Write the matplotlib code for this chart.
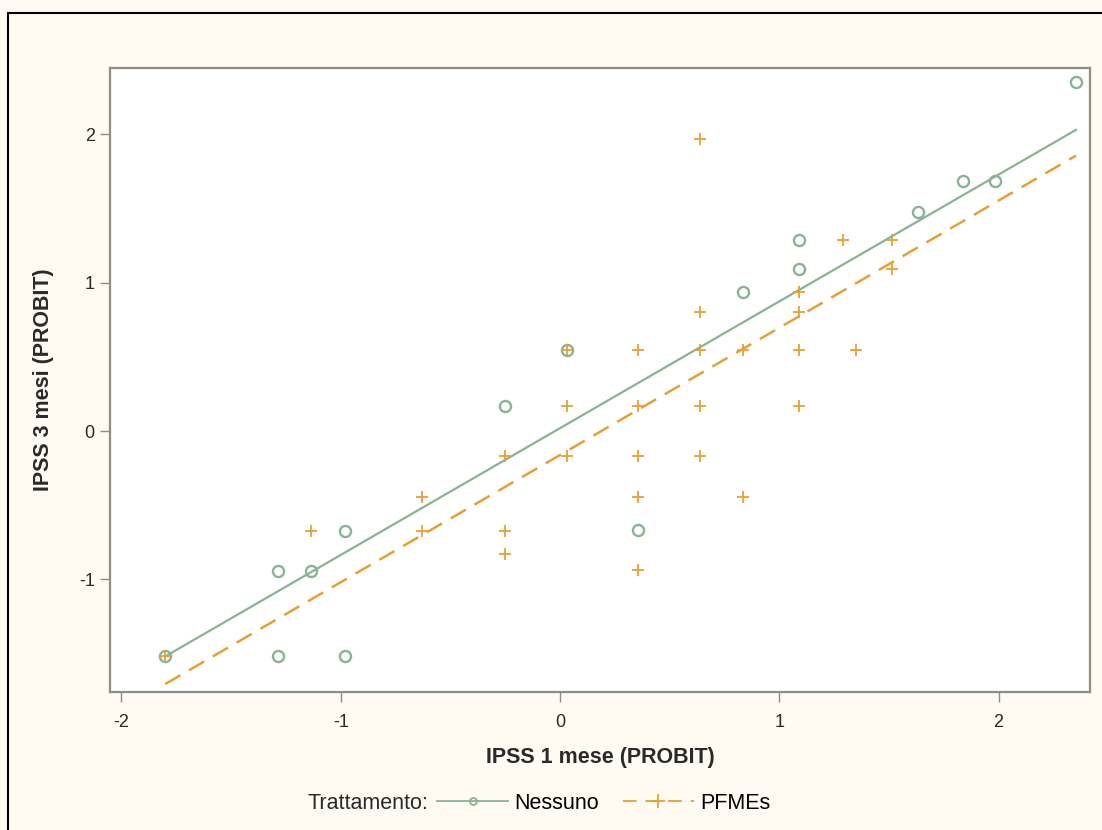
import numpy as np
import matplotlib
matplotlib.use("Agg")
import matplotlib.pyplot as plt
from matplotlib.lines import Line2D
from matplotlib.patches import Rectangle

plt.rcParams['font.family'] = ['Liberation Sans', 'DejaVu Sans']
plt.rcParams['axes.unicode_minus'] = False

# Nessuno (circles)
nes_x = [-1.80, -1.286, -1.136, -0.98, -1.286, -0.98, -0.25, 0.032, 0.356,
         0.835, 1.09, 1.09, 1.633, 1.838, 1.984, 2.353]
nes_y = [-1.52, -0.944, -0.944, -0.674, -1.52, -1.52, 0.169, 0.546, -0.668,
         0.937, 1.288, 1.092, 1.477, 1.686, 1.686, 2.353]

# PFMEs (plus)
pf_x = [-1.80, -1.136, -0.63, -0.63, -0.25, -0.25, -0.25, 0.032, 0.032, 0.032,
        0.356, 0.356, 0.356, 0.356, 0.356, 0.639, 0.639, 0.639, 0.639, 0.639,
        0.835, 0.835, 1.09, 1.09, 1.09, 1.09, 1.29, 1.35, 1.514, 1.514]
pf_y = [-1.52, -0.674, -0.445, -0.674, -0.169, -0.674, -0.83, 0.546, 0.169, -0.169,
        0.546, 0.169, -0.169, -0.445, -0.937, 1.969, 0.80, 0.546, 0.169, -0.169,
        0.546, -0.445, 0.937, 0.80, 0.546, 0.169, 1.288, 0.546, 1.288, 1.092]

# regression lines (intercept, slope)
nes_fit = (0.019, 0.855)
pf_fit = (-0.162, 0.858)
fit_range = [-1.80, 2.353]

green = '#8ab393'
orange = '#e6a033'
bg = '#fffaf2'
frame = '#8e8e84'
txt = '#2a2a2a'

fig = plt.figure(figsize=(11.02, 8.30), dpi=100, facecolor=bg)
fig.patches.append(Rectangle((8 / 1102, -0.05), 1.2, 1 - 13 / 830 + 0.05,
                             transform=fig.transFigure, fill=False,
                             edgecolor='black', linewidth=1.5))
ax = fig.add_axes([110 / 1102, 1 - 692 / 830, 980 / 1102, 624 / 830])
ax.set_facecolor('white')

xs = np.array(fit_range)
ax.plot(xs, nes_fit[0] + nes_fit[1] * xs, color=green, lw=1.6)
ax.plot(xs, pf_fit[0] + pf_fit[1] * xs, color=orange, lw=1.8, dashes=(7, 4))

ax.plot(nes_x, nes_y, 'o', ms=8, mfc='none', mec=green, mew=1.7)
ax.plot(pf_x, pf_y, '+', ms=9, color=orange, mew=1.3)

ax.set_xlim(-2.052, 2.417)
ax.set_ylim(-1.760, 2.448)
ax.set_xticks([-2, -1, 0, 1, 2])
ax.set_yticks([-1, 0, 1, 2])
for s in ax.spines.values():
    s.set_color(frame)
    s.set_linewidth(1.6)
ax.tick_params(direction='out', length=7, width=1, color=frame,
               labelsize=13, labelcolor=txt)
ax.tick_params(axis='x', pad=9)
ax.tick_params(axis='y', pad=4)

ax.set_xlabel('IPSS 1 mese (PROBIT)', fontsize=15.5, fontweight='bold',
              color=txt, labelpad=11)
ax.set_ylabel('IPSS 3 mesi (PROBIT)', fontsize=15.5, fontweight='bold',
              color=txt, labelpad=18)

fig.text(308 / 1102, 1 - 803 / 830, 'Trattamento:', fontsize=15.5,
         color=txt, va='center', ha='left')
handles = [Line2D([], [], color=green, lw=1.3, marker='o', ms=5, mfc='none',
                  mec=green, mew=1.3),
           Line2D([], [], color=orange, lw=1.3, dashes=(7.5, 5), marker='+',
                  ms=10, mew=1.3)]
fig.legend(handles, ['Nessuno', 'PFMEs'], loc='center left',
           bbox_to_anchor=(437 / 1102, 1 - 803 / 830), ncol=2, frameon=False,
           fontsize=15.5, handlelength=3.3, handletextpad=0.3, columnspacing=1.1,
           borderpad=0, borderaxespad=0)

fig.savefig('out.png', dpi=100, facecolor=bg)
